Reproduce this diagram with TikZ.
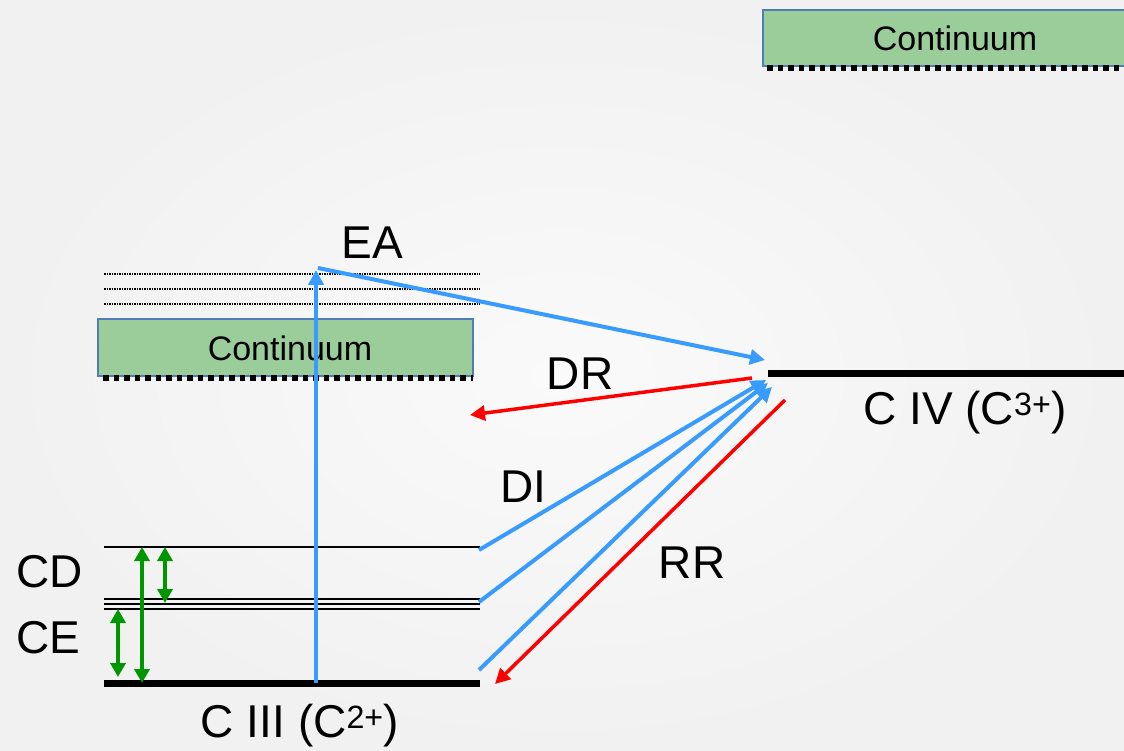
\documentclass[tikz,border=0pt]{standalone}
\usepackage{fontspec}
\setmainfont{Liberation Sans}
\usetikzlibrary{arrows.meta}
\definecolor{bgouter}{RGB}{241,241,241}
\definecolor{bginner}{RGB}{250,250,250}
\definecolor{contfill}{RGB}{155,205,155}
\definecolor{contedge}{RGB}{80,125,185}
\definecolor{ablue}{RGB}{55,155,255}
\definecolor{ared}{RGB}{255,0,0}
\definecolor{agreen}{RGB}{0,150,0}
\tikzset{
  big/.style={font=\fontsize{46}{46}\selectfont},
  small/.style={font=\fontsize{34}{34}\selectfont},
  cont/.style={fill=contfill,draw=contedge,line width=1.5pt},
  contedge/.style={line width=5.5pt,dash pattern=on 5.5pt off 5pt},
  level/.style={line width=2pt},
  ground/.style={line width=7pt},
  rydberg/.style={line width=1.5pt,dash pattern=on 1.5pt off 1pt},
  blue arr/.style={ablue,line width=4pt,-{Triangle[length=15pt,width=15pt]}},
  red arr/.style={ared,line width=3.5pt,-{Triangle[length=15pt,width=15pt]}},
  green arr/.style={agreen,line width=4pt,{Triangle[length=14pt,width=15pt]}-{Triangle[length=14pt,width=15pt]}}
}
\begin{document}
\begin{tikzpicture}[x=1pt,y=-1pt]
    \useasboundingbox (0,0) rectangle (1124,751);
    \shade[inner color=bginner,outer color=bgouter] (0,0) rectangle (1124,751);
    % continua
    \draw[cont] (763,10) rectangle (1130,66);
    \node[small] (ctop) at (955,38) {Continuum};
    \draw[contedge] (767,68) -- (1124,68);
    \draw[cont] (98,319) rectangle (473,376);
    \node[small] (cleft) at (290,348) {Continuum};
    \draw[contedge] (103,378) -- (473,378);
    % Rydberg levels above the continuum
    \foreach \y in {274,289,304}
        \draw[rydberg] (104,\y) -- (480,\y);
    % bound levels of C III
    \draw[level] (104,547) -- (480,547);
    \foreach \y in {599,604,609}
        \draw[level] (104,\y) -- (480,\y);
    \draw[ground] (104,683) -- (480,683);
    \draw[ground] (768,373) -- (1124,373);
    % end points
    \coordinate (g) at (316,683);
    \coordinate (ea) at (316,270);
    \coordinate (eatop) at (318,268);
    \coordinate (civ) at (765,360);
    \coordinate (dra) at (752,378);
    \coordinate (drb) at (470,415);
    \coordinate (dia) at (479,550);
    \coordinate (dib) at (479,602);
    \coordinate (dic) at (479,670);
    \coordinate (rra) at (785,400);
    \coordinate (rrb) at (495,684);
    % processes
    \draw[blue arr] (g) -- (ea);
    \draw[blue arr] (eatop) -- (civ);
    \draw[red arr] (dra) -- (drb);
    \draw[blue arr] (dia) -- (766,380);
    \draw[blue arr] (dib) -- (768,383);
    \draw[blue arr] (dic) -- (772,387);
    \draw[red arr] (rra) -- (rrb);
    % excitation / de-excitation
    \draw[green arr] (142,547) -- (142,683);
    \draw[green arr] (165,547) -- (165,603);
    \draw[green arr] (118,609) -- (118,677);
    % labels
    \node[big] (lea) at (372,243) {EA};
    \node[big] (ldr) at (580,374) {DR};
    \node[big] (ldi) at (523,487) {DI};
    \node[big] (lrr) at (692,563) {RR};
    \node[big] (lcd) at (50,572) {CD};
    \node[big] (lce) at (48,638) {CE};
    \node[big] (liii) at (300,726) {C III (C\textsuperscript{2+})};
    \node[big] (liv) at (965,413) {C IV (C\textsuperscript{3+})};
\end{tikzpicture}
\end{document}
